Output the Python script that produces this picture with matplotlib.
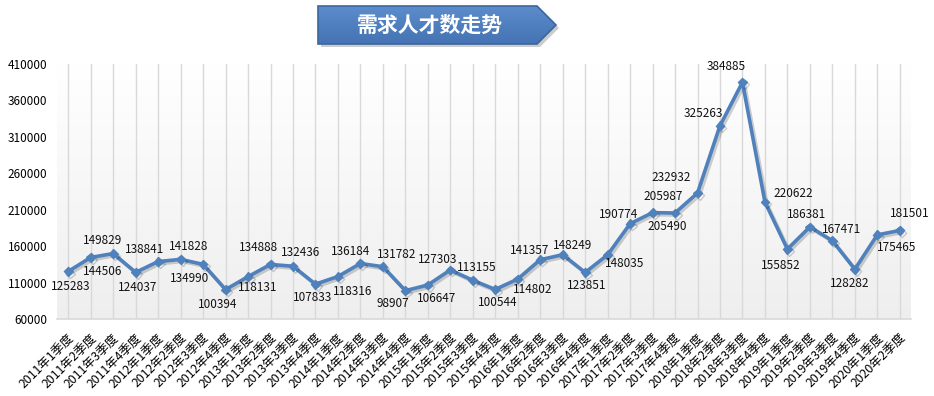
import numpy as np
import matplotlib
matplotlib.use('Agg')
import matplotlib.pyplot as plt
import matplotlib.patheffects as pe
from matplotlib.patches import Polygon

plt.rcParams['font.family'] = ['Noto Sans CJK SC', 'DejaVu Sans']

# quarters 2011Q1 .. 2020Q2
years = [2011]*4 + [2012]*4 + [2013]*4 + [2014]*4 + [2015]*4 + [2016]*4 + \
        [2017]*4 + [2018]*4 + [2019]*4 + [2020]*2
quarters = [1, 2, 3, 4]*9 + [1, 2]
labels = ['%d年%d季度' % (y, q) for y, q in zip(years, quarters)]

demand = [125283, 144506, 149829, 124037, 138841, 141828, 134990, 100394,
          118131, 134888, 132436, 107833, 118316, 136184, 131782, 98907,
          106647, 127303, 113155, 100544, 114802, 141357, 148249, 123851,
          148035, 190774, 205987, 205490, 232932, 325263, 384885, 220622,
          155852, 186381, 167471, 128282, 175465, 181501]

yticks = [60000, 110000, 160000, 210000, 260000, 310000, 360000, 410000]

# data label offsets in pixels (dx right, dy down) - like excel's placement
lbl_off = [(2, 15), (12, 14), (-11, -13), (2, 15), (-14, -12), (8, -13), (-14, 14), (-8, 15),
           (10, 11), (-12, -17), (8, -14), (-3, 13), (15, 15), (-10, -12), (14, -12), (-13, 13),
           (9, 13), (-13, -10), (4, -13), (2, 13), (15, 10), (-11, -9), (10, -9), (2, 13),
           (17, 9), (-12, -9), (11, -16), (-8, 13), (-26, -16), (-17, -12), (-16, -16), (28, -8),
           (-7, 16), (-3, -12), (9, -11), (-5, 14), (19, 13), (10, -17)]

W, H = 934, 396
fig = plt.figure(figsize=(W/100, H/100), dpi=100)
fig.patch.set_facecolor('white')

ax = fig.add_axes([57/W, 1-319/H, (911-57)/W, (319-64)/H])
x = np.arange(len(demand))
ax.set_xlim(-0.5, len(demand)-0.5)
ax.set_ylim(60000, 410000)

# plot area gradient white -> light gray
grad = np.linspace(1.0, 0.935, 256).reshape(-1, 1)
ax.imshow(np.dstack([grad, grad, grad]), extent=[-0.5, len(demand)-0.5, 60000, 410000],
          aspect='auto', zorder=0)

for xi in x:
    ax.axvline(xi, color='#d9d9d9', lw=1, zorder=1)

ax.plot(x, demand, color='#4f81bd', lw=2.6, marker='D', ms=4.5, zorder=3,
        path_effects=[pe.SimpleLineShadow(offset=(1.5, -1.5), alpha=0.18), pe.Normal()])

for xi, v, (dx, dy) in zip(x, demand, lbl_off):
    ax.annotate(str(v), (xi, v), xytext=(dx, -dy), textcoords='offset pixels',
                ha='center', va='center', fontsize=8.5, color='#111111', zorder=4,
                annotation_clip=False)

for s in ['top', 'right', 'left']:
    ax.spines[s].set_visible(False)
ax.spines['bottom'].set_color('#d9d9d9')
ax.spines['bottom'].set_linewidth(1.2)

ax.set_yticks(yticks)
ax.set_yticklabels([str(t) for t in yticks], fontsize=8.5)
ax.tick_params(axis='y', length=0, pad=7)
ax.set_xticks(x)
ax.set_xticklabels(labels, rotation=45, ha='right', rotation_mode='anchor', fontsize=8.8)
ax.tick_params(axis='x', length=0, pad=9)

# title banner (arrow shaped box)
ov = fig.add_axes([0, 0, 1, 1], zorder=10)
ov.set_xlim(0, W)
ov.set_ylim(H, 0)
ov.axis('off')
ov.patch.set_alpha(0)
pts = [(318, 6), (537, 6), (556, 25), (537, 44), (318, 44)]
shadow = Polygon([(px+3, py+3) for px, py in pts], closed=True, fc='#000000', alpha=0.2, ec='none')
ov.add_patch(shadow)
banner = Polygon(pts, closed=True, fc='none', ec='#3a679c', lw=1.2, zorder=3)
ov.add_patch(banner)
bg = np.linspace(0, 1, 64).reshape(-1, 1)
top_c = np.array([0.36, 0.55, 0.80])
bot_c = np.array([0.27, 0.45, 0.70])
img = top_c*(1-bg[..., None]) + bot_c*bg[..., None]
im = ov.imshow(np.repeat(img, 2, axis=1), extent=[318, 556, 44, 6], aspect='auto', zorder=2)
im.set_clip_path(Polygon(pts, closed=True, transform=ov.transData))
ov.text(430, 25, '需求人才数走势', ha='center', va='center', color='white',
        fontsize=15, fontweight='bold', zorder=4)

fig.savefig('out.png', dpi=100)
